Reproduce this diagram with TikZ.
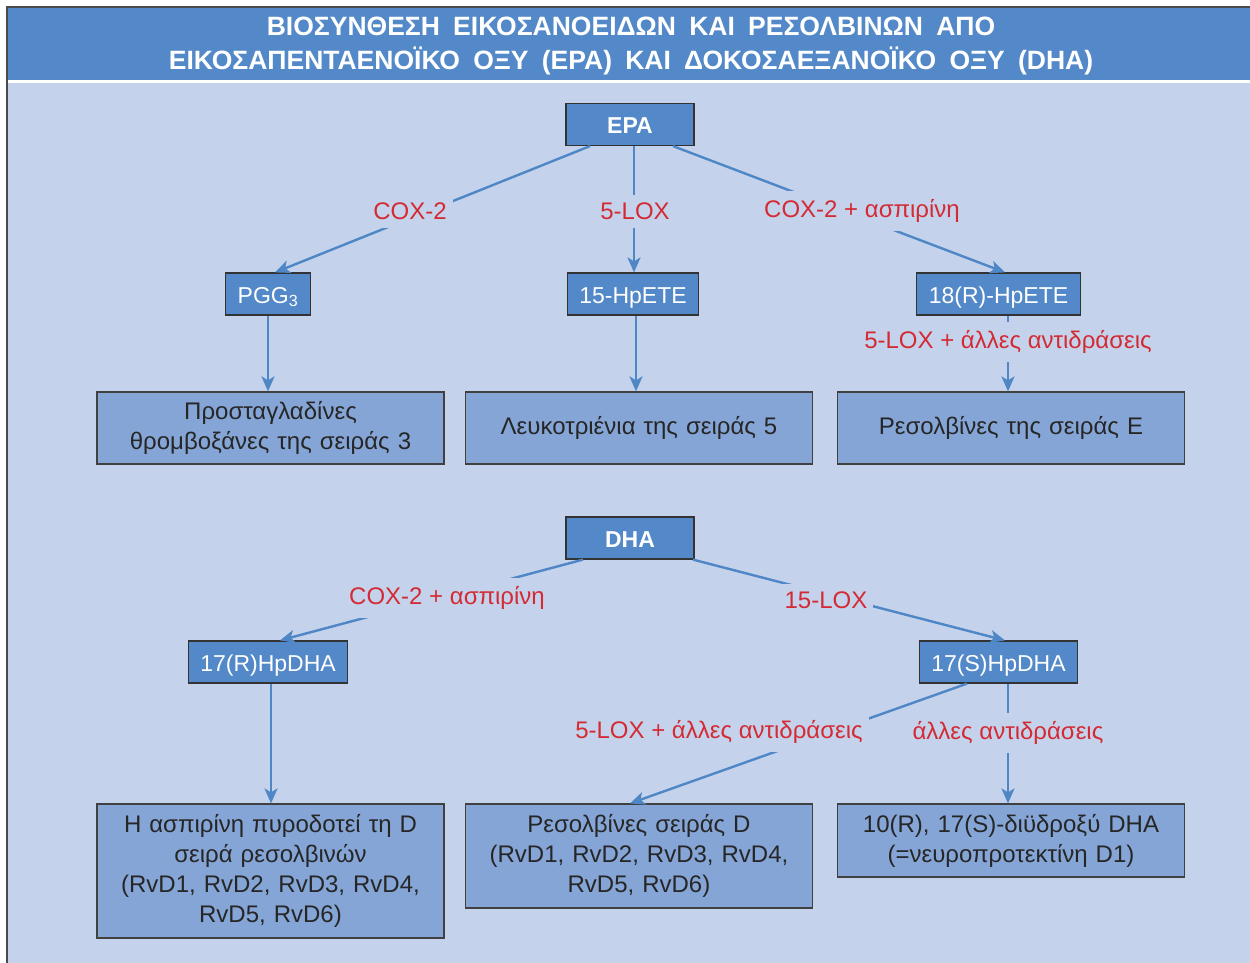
\documentclass[tikz,border=0pt]{standalone}
\usepackage{fontspec}
\setmainfont{Liberation Sans}
\newfontfamily\headfont[WordSpace=1.8]{Liberation Sans}
\usetikzlibrary{arrows.meta}

\definecolor{panelBg}{HTML}{C4D3EB}
\definecolor{headBlue}{HTML}{5389C8}
\definecolor{boxBlue}{HTML}{84A5D6}
\definecolor{lineBlue}{HTML}{4F87C6}
\definecolor{enzRed}{HTML}{D42A33}
\definecolor{frameGray}{HTML}{4A4A4A}

\begin{document}
\begin{tikzpicture}[
  x=1pt, y=-1pt,
  font=\fontsize{24}{30}\selectfont,
  >={Stealth[length=15pt, width=13pt, inset=4pt]}
]
% -------------------- Styles --------------------
\tikzset{
  cmpd/.style={
    draw=black!80, line width=1.2pt, fill=headBlue, text=white,
    font=\fontsize{23}{30}\selectfont,
    minimum height=42pt, inner xsep=12pt, inner ysep=0pt,
    text height=20pt, text depth=2pt
  },
  acid/.style={
    cmpd, font=\fontsize{23}{30}\selectfont\bfseries, minimum width=128pt
  },
  family/.style={
    draw=black!75, line width=1.2pt, fill=boxBlue, text=black!85,
    align=center, minimum width=347pt, text width=330pt
  },
  enzyme/.style={
    text=enzRed, fill=panelBg, inner xsep=6pt, inner ysep=8pt
  },
  flow/.style={draw=lineBlue, line width=2.4pt},
  feed/.style={flow, ->}
}

% -------------------- Frame and heading --------------------
\useasboundingbox (0,0) rectangle (1250,962);
\clip (0,0) rectangle (1250,962);
\fill[white] (0,0) rectangle (1250,962);
\fill[panelBg] (7,7) rectangle (1260,975);
\fill[headBlue] (7,7) rectangle (1260,80);
\fill[white] (7,80) rectangle (1260,83);
\draw[frameGray, line width=2pt] (7,975) -- (7,7) -- (1260,7);

\node[font=\headfont\fontsize{26.5}{34}\selectfont\bfseries, text=white, align=center]
  (title) at (631,46) {ΒΙΟΣΥΝΘΕΣΗ ΕΙΚΟΣΑΝΟΕΙΔΩΝ ΚΑΙ ΡΕΣΟΛΒΙΝΩΝ ΑΠΟ\\
  ΕΙΚΟΣΑΠΕΝΤΑΕΝΟΪΚΟ ΟΞΥ (EPA) ΚΑΙ ΔΟΚΟΣΑΕΞΑΝΟΪΚΟ ΟΞΥ (DHA)};

% -------------------- EPA branch --------------------
\node[acid] (epa) at (630,124.5) {EPA};
\node[cmpd] (pgg) at (268,294) {PGG\textsubscript{3}};
\node[cmpd] (hpete) at (633,294) {15-HpETE};
\node[cmpd] (rhpete) at (998.5,294) {18(R)-HpETE};

\node[family, minimum height=72pt] (prost) at (270.5,428)
  {Προσταγλαδίνες\\θρομβοξάνες της σειράς 3};
\node[family, minimum height=72pt] (leuko) at (639,428)
  {Λευκοτριένια της σειράς 5};
\node[family, minimum height=72pt] (resE) at (1011,428)
  {Ρεσολβίνες της σειράς E};

\draw[feed] ([xshift=-40pt]epa.south) -- ([xshift=7pt]pgg.north);
\draw[feed] ([xshift=4pt]epa.south) -- ([xshift=1pt]hpete.north);
\draw[feed] ([xshift=43pt]epa.south) -- ([xshift=6.5pt]rhpete.north);
\draw[feed] (pgg.south) -- (pgg.south |- prost.north);
\draw[feed] ([xshift=3pt]hpete.south) -- ([xshift=3pt]hpete.south |- leuko.north);
\draw[feed] ([xshift=9.5pt]rhpete.south) -- ([xshift=9.5pt]rhpete.south |- resE.north);

% -------------------- DHA branch --------------------
\node[acid] (dha) at (630,538) {DHA};
\node[cmpd] (rhpdha) at (268,662) {17(R)HpDHA};
\node[cmpd] (shpdha) at (998.5,662) {17(S)HpDHA};

\node[family, minimum height=134pt] (aspD) at (270.5,871)
  {Η ασπιρίνη πυροδοτεί τη D\\σειρά ρεσολβινών\\(RvD1, RvD2, RvD3, RvD4,\\RvD5, RvD6)};
\node[family, minimum height=104pt] (resD) at (639,856)
  {Ρεσολβίνες σειράς D\\(RvD1, RvD2, RvD3, RvD4,\\RvD5, RvD6)};
\node[family, minimum height=73pt] (npd) at (1011,840.5)
  {10(R), 17(S)-διϋδροξύ DHA\\(=νευροπροτεκτίνη D1)};

\draw[feed] ([xshift=-47pt]dha.south) -- ([xshift=12pt]rhpdha.north);
\draw[feed] ([xshift=63pt]dha.south) -- ([xshift=6.5pt]shpdha.north);
\draw[feed] ([xshift=3pt]rhpdha.south) -- ([xshift=3pt]rhpdha.south |- aspD.north);
\draw[feed] ([xshift=-31.5pt]shpdha.south) -- ([xshift=-9pt]resD.north);
\draw[feed] ([xshift=9.5pt]shpdha.south) -- ([xshift=9.5pt]shpdha.south |- npd.north);

% -------------------- Enzyme labels (cut the lines) --------------------
\node[enzyme] (cox) at (410,211) {COX-2};
\node[enzyme] (lox5) at (635,211) {5-LOX};
\node[enzyme] (coxasp) at (862,211) {COX-2 + ασπιρίνη};
\node[enzyme] (loxE) at (1008,342) {5-LOX + άλλες αντιδράσεις};
\node[enzyme] (coxaspD) at (447,598) {COX-2 + ασπιρίνη};
\node[enzyme] (lox15) at (826,600) {15-LOX};
\node[enzyme] (loxD) at (719,732) {5-LOX + άλλες αντιδράσεις};
\node[enzyme] (other) at (1008,733) {άλλες αντιδράσεις};

\end{tikzpicture}
\end{document}
